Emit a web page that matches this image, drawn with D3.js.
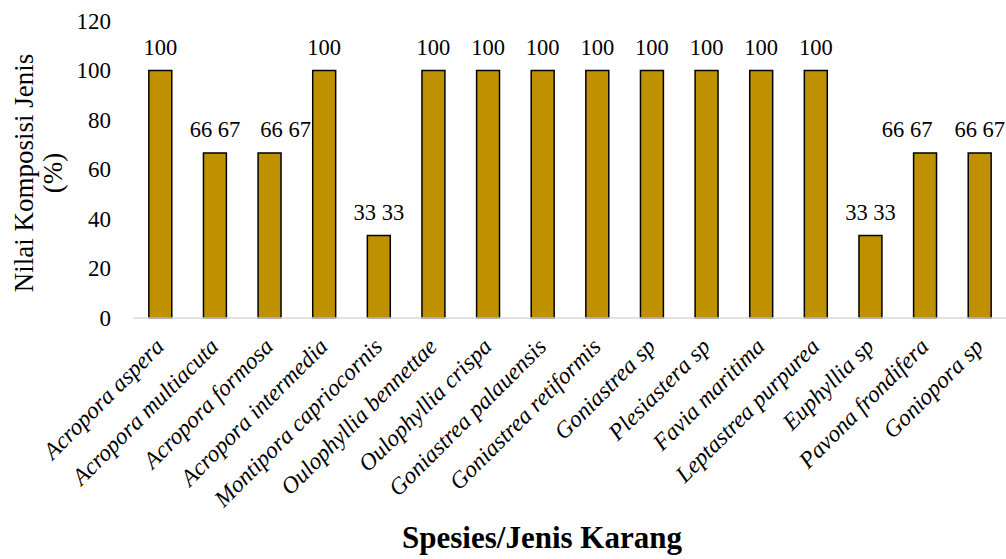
<!DOCTYPE html>
<html>
<head>
<meta charset="utf-8">
<script src="https://cdn.jsdelivr.net/npm/d3@7"></script>
<style>
  body { margin: 0; background: #fff; }
</style>
</head>
<body>
<svg id="chart" width="1006" height="559"></svg>
<script>
const species = [
  "Acropora aspera", "Acropora multiacuta", "Acropora formosa", "Acropora intermedia",
  "Montipora capriocornis", "Oulophyllia bennettae", "Oulophyllia crispa", "Goniastrea palauensis",
  "Goniastrea retiformis", "Goniastrea sp", "Plesiastera sp", "Favia maritima",
  "Leptastrea purpurea", "Euphyllia sp", "Pavona frondifera", "Goniopora sp"
];
const komposisi = [100, 66.67, 66.67, 100, 33.33, 100, 100, 100, 100, 100, 100, 100, 100, 33.33, 66.67, 66.67];
const valueLabels = ["100", "66 67", "66 67", "100", "33 33", "100", "100", "100", "100", "100", "100", "100", "100", "33 33", "66 67", "66 67"];
const yTicks = [0, 20, 40, 60, 80, 100, 120];

// labels that were nudged sideways to avoid overlap
const labelNudge = { "Acropora formosa": 16, "Pavona frondifera": -18 };

const serif = "'Liberation Serif', 'Times New Roman', serif";
const svg = d3.select("#chart");

const x = d3.scaleBand()
  .domain(species)
  .range([133, 1007])
  .paddingInner(0.58)
  .paddingOuter(0.29);

const y = d3.scaleLinear()
  .domain([0, 120])
  .range([318, 21]);

// y tick labels
svg.append("g")
  .selectAll("text")
  .data(yTicks)
  .join("text")
  .attr("x", 111)
  .attr("y", d => y(d))
  .attr("dy", "0.34em")
  .attr("text-anchor", "end")
  .attr("font-family", serif)
  .attr("font-size", 23)
  .text(d => d);

// bars
svg.append("g")
  .selectAll("rect")
  .data(komposisi)
  .join("rect")
  .attr("x", (d, i) => x(species[i]))
  .attr("y", d => y(d))
  .attr("width", x.bandwidth())
  .attr("height", d => y(0) - y(d))
  .attr("fill", "#BF9000")
  .attr("stroke", "#000")
  .attr("stroke-width", 1.5);

// baseline
svg.append("line")
  .attr("x1", 133).attr("x2", 1006)
  .attr("y1", y(0)).attr("y2", y(0))
  .attr("stroke", "#d9d9d9")
  .attr("stroke-width", 1.5);

// value labels
svg.append("g")
  .selectAll("text")
  .data(komposisi)
  .join("text")
  .attr("x", (d, i) => x(species[i]) + x.bandwidth() / 2 + (labelNudge[species[i]] || 0))
  .attr("y", d => y(d) - 16)
  .attr("text-anchor", "middle")
  .attr("font-family", serif)
  .attr("font-size", 22.5)
  .text((d, i) => valueLabels[i]);

// category labels
svg.append("g")
  .selectAll("text")
  .data(species)
  .join("text")
  .attr("transform", d => `translate(${x(d) + x.bandwidth() / 2 + 5},${y(0) + 30}) rotate(-45)`)
  .attr("text-anchor", "end")
  .attr("font-family", serif)
  .attr("font-size", 23.5)
  .attr("font-style", "italic")
  .text(d => d);

// y axis title
const yTitle = svg.append("text")
  .attr("transform", "translate(33,173) rotate(-90)")
  .attr("text-anchor", "middle")
  .attr("font-family", serif)
  .attr("font-size", 27);
yTitle.append("tspan").attr("x", 0).attr("y", 0).text("Nilai Komposisi Jenis");
yTitle.append("tspan").attr("x", 0).attr("y", 29).text("(%)");

// x axis title
svg.append("text")
  .attr("x", 542)
  .attr("y", 548)
  .attr("text-anchor", "middle")
  .attr("font-family", serif)
  .attr("font-size", 31)
  .attr("font-weight", "bold")
  .text("Spesies/Jenis Karang");
</script>
</body>
</html>
